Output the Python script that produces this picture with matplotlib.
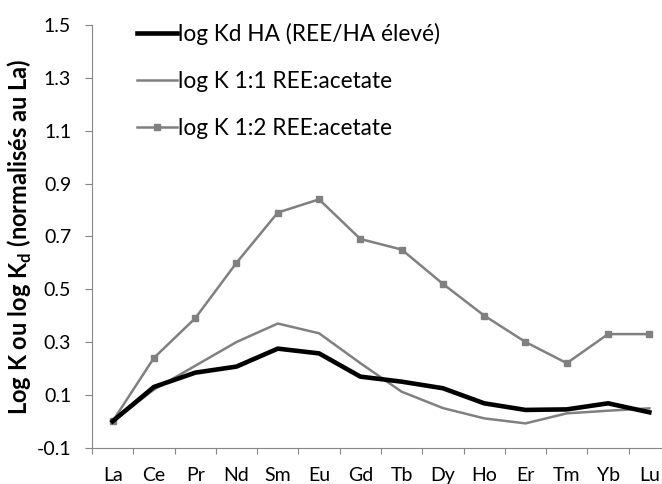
import matplotlib
matplotlib.use('Agg')
import matplotlib.pyplot as plt
import numpy as np

plt.rcParams['font.family'] = ['Lato', 'DejaVu Sans']
plt.rcParams['mathtext.fontset'] = 'custom'
plt.rcParams['mathtext.bf'] = 'Lato:bold'
plt.rcParams['mathtext.rm'] = 'Lato'

# Données
ree = ['La', 'Ce', 'Pr', 'Nd', 'Sm', 'Eu', 'Gd', 'Tb', 'Dy', 'Ho', 'Er', 'Tm', 'Yb', 'Lu']
kd_ha = [0.0, 0.13, 0.184, 0.207, 0.275, 0.257, 0.169, 0.15, 0.125, 0.068, 0.043, 0.045, 0.068, 0.034]
k_11 = [0.0, 0.12, 0.21, 0.30, 0.37, 0.333, 0.22, 0.112, 0.05, 0.011, -0.008, 0.03, 0.04, 0.049]
k_12 = [0.0, 0.24, 0.39, 0.60, 0.79, 0.84, 0.69, 0.65, 0.52, 0.40, 0.30, 0.22, 0.33, 0.33]

gris = '#808080'
axe = '#868686'

fig = plt.figure(figsize=(6.62, 4.84), dpi=100)
# l'axe x dépasse un peu à droite, comme dans l'original (coupé)
ax = fig.add_axes([92/662, 1 - 447.7/484, 578/662, 422.7/484])

x = np.arange(len(ree)) + 0.5
ax.plot(x, kd_ha, color='black', lw=3.3, solid_joinstyle='round', label='log Kd HA (REE/HA élevé)', zorder=3)
ax.plot(x, k_11, color=gris, lw=1.8, label='log K 1:1 REE:acetate', zorder=2)
ax.plot(x, k_12, color=gris, lw=1.8, marker='s', ms=4.5, label='log K 1:2 REE:acetate', zorder=2)

ax.set_xlim(0, len(ree))
ax.set_ylim(-0.1, 1.5)
ax.set_yticks(np.arange(-0.1, 1.51, 0.2))
ax.set_yticklabels(['%.1f' % v for v in np.arange(-0.1, 1.51, 0.2)])
ax.set_xticks(np.arange(len(ree) + 1))
ax.set_xticklabels([])
ax.set_xticks(x, minor=True)
ax.set_xticklabels(ree, minor=True)
ax.tick_params(axis='x', which='minor', length=0, pad=14, labelsize=14)
ax.tick_params(axis='x', which='major', direction='out', length=4.5, color=axe)
ax.tick_params(axis='y', direction='out', length=5, color=axe, labelsize=14, pad=10)

for s in ['top', 'right']:
    ax.spines[s].set_visible(False)
for s in ['left', 'bottom']:
    ax.spines[s].set_color(axe)

ax.set_ylabel(r'Log K ou log K$_\mathbf{d}$ (normalisés au La)', fontsize=17, fontweight='bold', labelpad=2)

ax.legend(loc='upper left', bbox_to_anchor=(128/662, 1 - 13.5/484), bbox_transform=fig.transFigure,
          frameon=False, fontsize=16.3, handlelength=1.77, handletextpad=0.05, labelspacing=1.16,
          borderaxespad=0)

fig.savefig('out.png', dpi=100)
